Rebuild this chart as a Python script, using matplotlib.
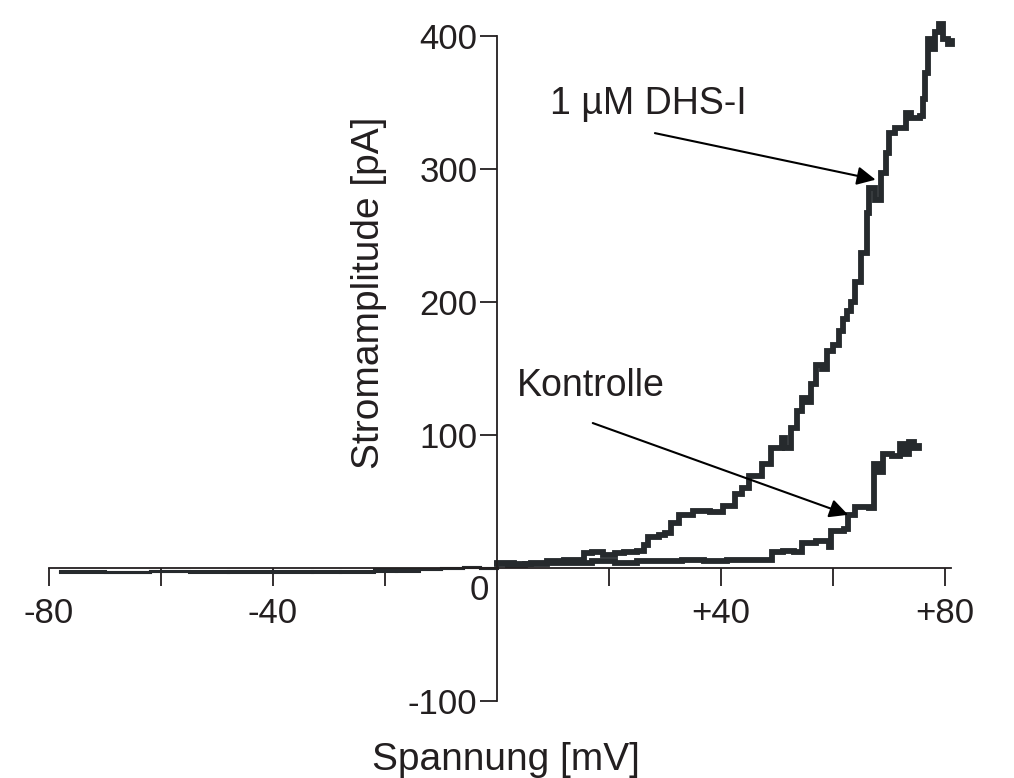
import matplotlib
matplotlib.use("Agg")
import matplotlib.pyplot as plt

# Messdaten: Spannung [mV] und Stromamplitude [pA]
kontrolle_mv = [-78, -70, -62, -55, -48, -40, -33, -28, -22, -18,
                -14, -10, -6, -3, 0, 2, 5, 9, 13, 17,
                21, 25, 29, 33, 37, 41, 45, 48.5, 49.1, 51,
                53, 54.4, 57, 59.3, 59.7, 62, 62.7, 64, 66.5, 67.3,
                68.2, 69, 70.5, 72, 72.8, 73.6, 74.4, 75.3]
kontrolle_pa = [-3, -3, -2, -3, -2, -3, -2, -3, -1, -2,
                -1, 0, 1, 0, 3, 2, 3, 4, 4, 5,
                4, 5, 5, 6, 5, 6, 6, 6, 12, 13,
                12, 19, 20, 16, 28, 29, 40, 46, 45, 78,
                72, 86, 84, 93, 86, 95, 90, 92]

dhs_mv = [-78, -70, -62, -55, -48, -40, -33, -28, -22, -18,
          -14, -10, -6, -3, 0, 3, 6, 9, 12, 15.6,
          17, 19, 21, 22.7, 25, 26.2, 27, 29, 30, 31,
          32.5, 35, 38, 40.3, 42.5, 43.8, 45, 47.4, 49, 50.9,
          51.5, 52.5, 53.5, 54.5, 55.3, 56, 57, 58, 59, 60,
          61, 61.7, 62.5, 63.2, 64, 65, 66, 66.5, 67.5, 68.5,
          69.5, 70, 71, 73, 74, 75.6, 76, 76.5, 77, 77.5,
          78.3, 79, 79.6, 80.5, 81.2]
dhs_pa = [-2, -3, -2, -2, -3, -2, -3, -2, -2, -1,
          -1, 0, 1, 0, 4, 3, 4, 5, 6, 11,
          12, 10, 11, 12, 13, 17, 23, 25, 26, 34,
          40, 43, 42, 47, 56, 60, 69, 78, 90, 98,
          90, 105, 118, 128, 125, 138, 153, 150, 163, 168,
          178, 187, 193, 200, 215, 237, 267, 286, 277, 297,
          312, 327, 331, 342, 338, 340, 353, 372, 398, 390,
          403, 409, 398, 394, 396]

x_ticks = [-80, -60, -40, -20, 20, 40, 60, 80]
x_ticklabels = ['-80', '', '-40', '', '', '+40', '', '+80']
y_ticks = [-100, 100, 200, 300, 400]
y_ticklabels = ['-100', '100', '200', '300', '400']

plt.rcParams['font.family'] = ['Liberation Sans', 'DejaVu Sans']
ink = '#231f20'
trace = '#262a2d'

fig = plt.figure(figsize=(10.14, 7.78), dpi=100)
ax = fig.add_axes([0, 0, 1, 1])
ax.set_xlim(-88.75, 92.32)
ax.set_ylim(-157.9, 427.1)

# Kurven als Treppen, negativer Bereich duenner
for mv, pa in [(kontrolle_mv, kontrolle_pa), (dhs_mv, dhs_pa)]:
    neg = [i for i, v in enumerate(mv) if v <= 0]
    pos = [i for i, v in enumerate(mv) if v >= 0]
    ax.plot([mv[i] for i in neg], [pa[i] for i in neg], drawstyle='steps-post',
            color=trace, lw=2.2, solid_joinstyle='miter')
    ax.plot([mv[i] for i in pos], [pa[i] for i in pos], drawstyle='steps-post',
            color=trace, lw=4.2, solid_joinstyle='miter')

# Achsen durch den Nullpunkt
for s in ['top', 'right']:
    ax.spines[s].set_visible(False)
ax.spines['left'].set_position(('data', 0))
ax.spines['bottom'].set_position(('data', 0))
ax.spines['left'].set_bounds(-100, 400)
ax.spines['bottom'].set_bounds(-80, 81)
for s in ['left', 'bottom']:
    ax.spines[s].set_color(ink)
    ax.spines[s].set_linewidth(1.3)

ax.set_xticks(x_ticks)
ax.set_xticklabels(x_ticklabels)
ax.set_yticks(y_ticks)
ax.set_yticklabels(y_ticklabels)
ax.tick_params(axis='x', direction='out', length=13, width=1.3, pad=8,
               colors=ink, labelsize=25)
ax.tick_params(axis='y', direction='out', length=12, width=1.3, pad=2,
               colors=ink, labelsize=25)
ax.annotate('0', xy=(0, 0), xytext=(-13, -16), textcoords='offset points',
            ha='center', va='center', fontsize=25, color=ink)

# Beschriftungen
fig.text(506 / 1014, 8 / 778, 'Spannung [mV]', ha='center', va='baseline',
         fontsize=28, color=ink)
fig.text(369 / 1014, 1 - 293 / 778, 'Stromamplitude [pA]', rotation=90,
         ha='center', va='center', fontsize=28, color=ink)

arrow = dict(arrowstyle='-|>', color='black', lw=1.5, mutation_scale=28,
             shrinkA=0, shrinkB=0)
ax.annotate('', xy=(67.6, 292), xytext=(28.2, 327), arrowprops=arrow)
ax.annotate('', xy=(62.7, 40), xytext=(17.1, 109), arrowprops=arrow)
ax.text(9.5, 349, '1 µM DHS-I', ha='left', va='center', fontsize=27, color=ink)
ax.text(3.6, 137, 'Kontrolle', ha='left', va='center', fontsize=27, color=ink)

plt.savefig('out.png', dpi=100)
